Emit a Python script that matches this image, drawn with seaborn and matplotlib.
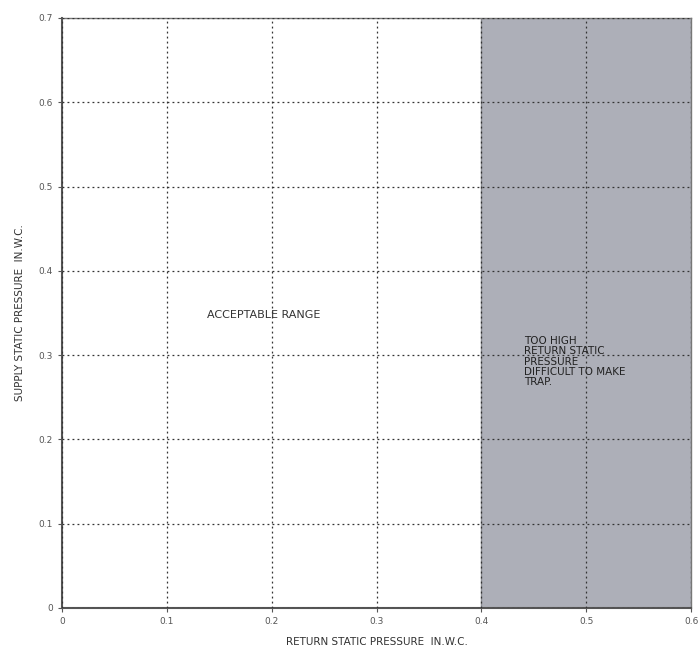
import matplotlib
matplotlib.use("Agg")
import matplotlib.pyplot as plt
import seaborn as sns
import pandas as pd

# Axis ticks
x_ticks = [0, 0.1, 0.2, 0.3, 0.4, 0.5, 0.6]
x_tick_labels = ["0", "0.1", "0.2", "0.3", "0.4", "0.5", "0.6"]
y_ticks = [0, 0.1, 0.2, 0.3, 0.4, 0.5, 0.6, 0.7]
y_tick_labels = ["0", "0.1", "0.2", "0.3", "0.4", "0.5", "0.6", "0.7"]

# Limit of acceptable return static pressure
limit_x = [0.4, 0.4]
limit_y = [0.0, 0.7]
region_right = 0.6

sns.set_style("ticks")
plt.rcParams["font.family"] = ["DejaVu Sans"]

fig = plt.figure(figsize=(6.99, 6.52), dpi=100)
ax = fig.add_axes([0.0887, 0.0675, 0.9, 0.905])

# Too-high region
ax.axvspan(limit_x[0], region_right, color="#adafb8", zorder=0)

limit_df = pd.DataFrame({"x": limit_x, "y": limit_y})
sns.lineplot(data=limit_df, x="x", y="y", ax=ax, color="black", linewidth=2.2, zorder=3)

ax.set_xlim(0, 0.6)
ax.set_ylim(0, 0.7)
ax.set_xticks(x_ticks)
ax.set_xticklabels(x_tick_labels, fontsize=6.5, color="#444444")
ax.set_yticks(y_ticks)
ax.set_yticklabels(y_tick_labels, fontsize=6.5, color="#444444")
ax.tick_params(length=3, width=0.8, colors="#555555")

ax.grid(True, linestyle=(0, (1.5, 2.5)), color="#333333", linewidth=0.9)
ax.set_axisbelow(False)

for side in ["left", "bottom"]:
    ax.spines[side].set_color("#555555")
    ax.spines[side].set_linewidth(1.5)
for side in ["top", "right"]:
    ax.spines[side].set_color("#777777")
    ax.spines[side].set_linewidth(1.0)

ax.set_xlabel("RETURN STATIC PRESSURE  IN.W.C.", fontsize=7.5, color="#333333", labelpad=8)
ax.set_ylabel("SUPPLY STATIC PRESSURE  IN.W.C.", fontsize=7.5, color="#333333", labelpad=10)

ax.text(0.192, 0.347, "ACCEPTABLE RANGE", fontsize=8, color="#333333",
        ha="center", va="center")
ax.text(0.441, 0.323, "TOO HIGH\nRETURN STATIC\nPRESSURE\nDIFFICULT TO MAKE\nTRAP.",
        fontsize=7.5, color="#222222", ha="left", va="top", linespacing=1.05)

fig.savefig("out.png", dpi=100)
